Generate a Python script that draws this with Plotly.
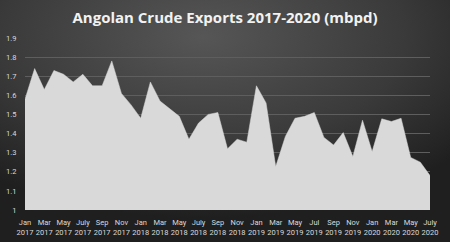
import plotly.graph_objects as go

months = ["Jan", "Feb", "Mar", "Apr", "May", "Jun", "Jul", "Aug", "Sep", "Oct", "Nov", "Dec"]
years = [2017, 2018, 2019, 2020]
periods = [f"{m} {y}" for y in years for m in months][:43]

exports = [1.58, 1.74, 1.63, 1.73, 1.71, 1.67, 1.71, 1.65, 1.65, 1.78, 1.61, 1.55,
           1.48, 1.67, 1.57, 1.53, 1.49, 1.37, 1.455, 1.50, 1.51, 1.32, 1.37, 1.355,
           1.65, 1.56, 1.227, 1.385, 1.48, 1.49, 1.51, 1.38, 1.34, 1.405, 1.28, 1.47,
           1.306, 1.477, 1.463, 1.48, 1.275, 1.25, 1.18]

tick_labels = ["Jan<br>2017", "Mar<br>2017", "May<br>2017", "July<br>2017", "Sep<br>2017", "Nov<br>2017",
               "Jan<br>2018", "Mar<br>2018", "May<br>2018", "July<br>2018", "Sep<br>2018", "Nov<br>2018",
               "Jan<br>2019", "Mar<br>2019", "May<br>2019", "Jul<br>2019", "Sep<br>2019", "Nov<br>2019",
               "Jan<br>2020", "Mar<br>2020", "May<br>2020", "July<br>2020"]
tick_vals = periods[::2]

W, H = 450, 242
L, R, T, B = 25, 20, 38, 32
pw, ph = W - L - R, H - T - B

svg = ("<svg xmlns='http://www.w3.org/2000/svg' width='450' height='242'>"
       "<defs><radialGradient id='g' cx='0.45' cy='0.15' r='0.75'>"
       "<stop offset='0' stop-color='#565656'/><stop offset='0.6' stop-color='#3a3a3a'/>"
       "<stop offset='1' stop-color='#1f1f1f'/></radialGradient></defs>"
       "<rect width='450' height='242' fill='url(#g)'/></svg>")
src = "data:image/svg+xml;charset=utf-8," + svg.replace("#", "%23").replace("<", "%3C").replace(">", "%3E").replace("'", "%27").replace(" ", "%20")

fig = go.Figure(go.Scatter(
    x=periods, y=exports, mode="lines", fill="tozeroy",
    line=dict(color="#d9d9d9", width=0.5), fillcolor="#d9d9d9",
))

tick_font = dict(family="Liberation Sans Narrow, Roboto, Open Sans", size=7.5, color="#d9d9d9")

fig.update_layout(
    width=W, height=H,
    margin=dict(l=L, r=R, t=T, b=B, autoexpand=False),
    paper_bgcolor="#333333", plot_bgcolor="rgba(0,0,0,0)",
    showlegend=False,
    title=dict(text="<b>Angolan Crude Exports 2017-2020 (mbpd)</b>", x=0.5, xanchor="center",
               y=1 - 18 / H, yanchor="middle",
               font=dict(family="Open Sans", size=15, color="#f2f2f2")),
    images=[dict(source=src, xref="paper", yref="paper", x=-L / pw, y=1 + T / ph,
                 sizex=W / pw, sizey=H / ph, sizing="stretch", layer="below",
                 xanchor="left", yanchor="top")],
    xaxis=dict(type="category", range=[0, 42], tickmode="array", tickvals=tick_vals,
               ticktext=tick_labels, showgrid=False, zeroline=False, showline=False,
               tickfont=tick_font, ticks="outside", ticklen=5, tickcolor="rgba(0,0,0,0)",
               tickangle=0, automargin=False),
    yaxis=dict(range=[1, 1.9], tickvals=[1, 1.1, 1.2, 1.3, 1.4, 1.5, 1.6, 1.7, 1.8, 1.9],
               ticktext=["1", "1.1", "1.2", "1.3", "1.4", "1.5", "1.6", "1.7", "1.8", "1.9"],
               showgrid=True, gridcolor="#5e5e5e", gridwidth=1, zeroline=False,
               tickfont=tick_font, ticks="outside", ticklen=6, tickcolor="rgba(0,0,0,0)",
               layer="below traces", automargin=False),
)

fig.write_html("out.html")
